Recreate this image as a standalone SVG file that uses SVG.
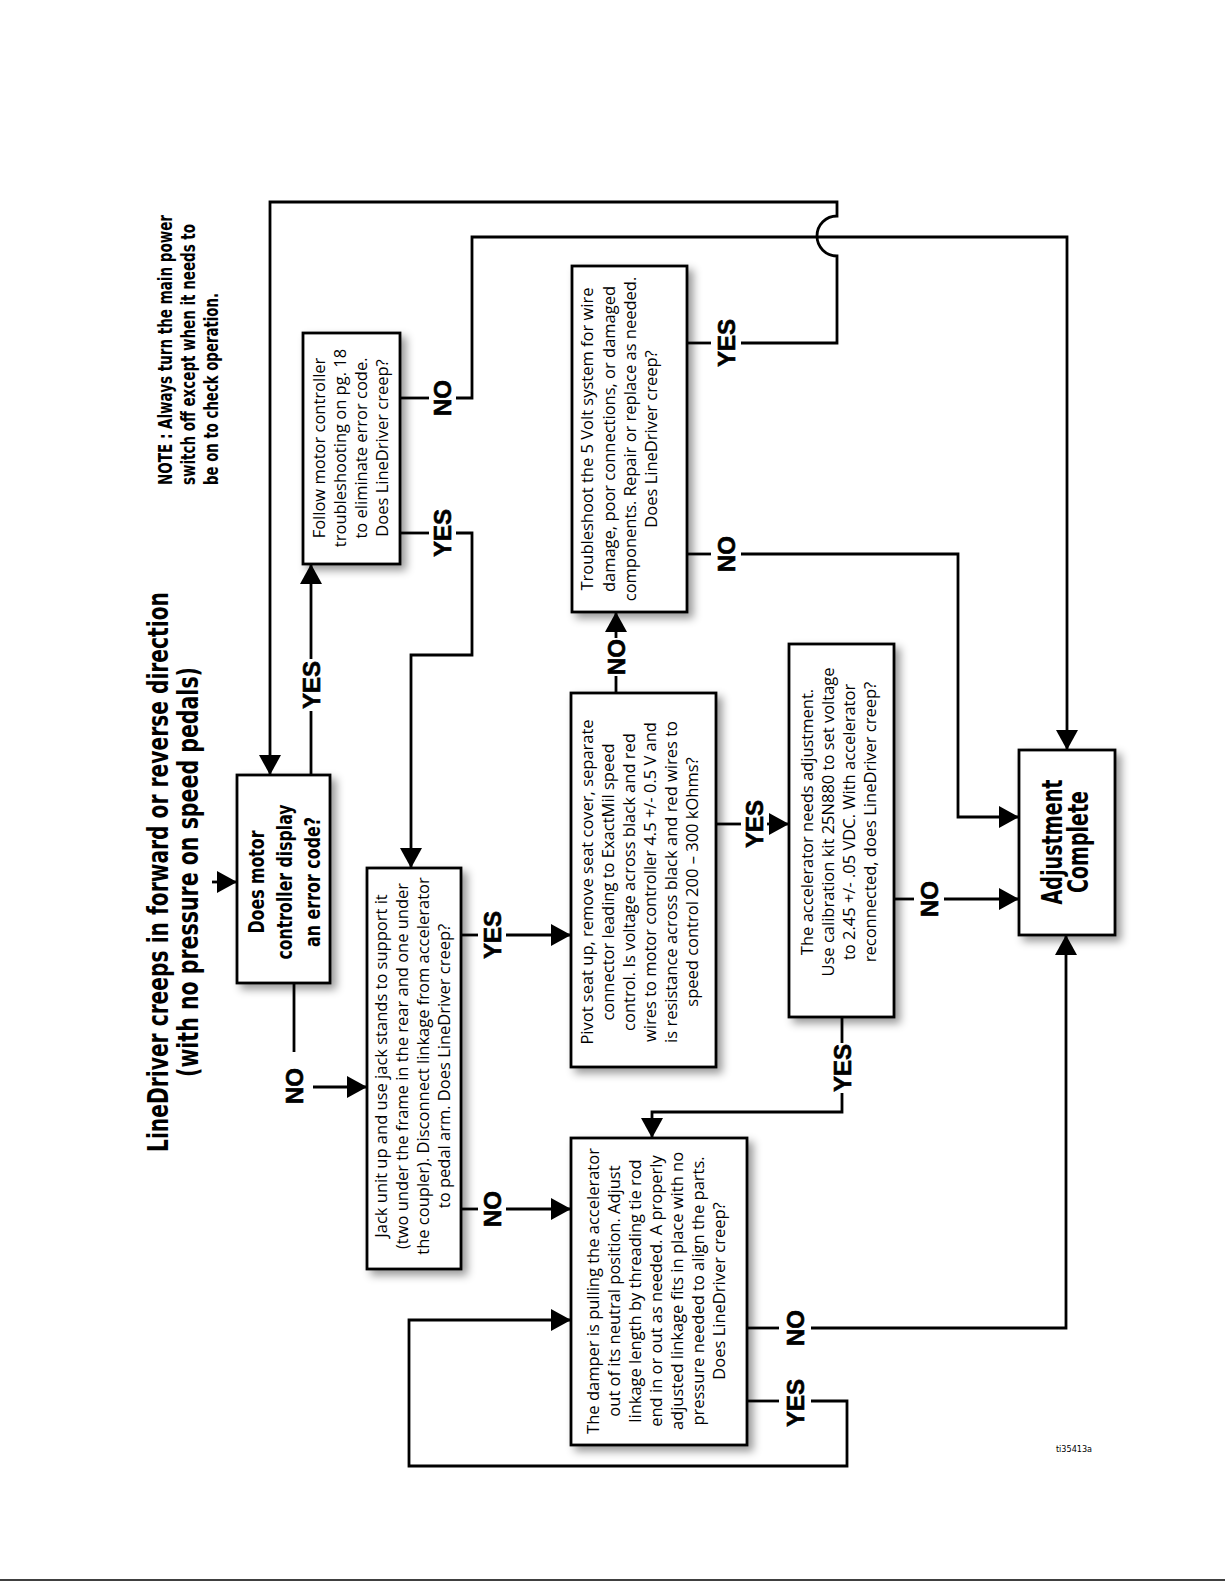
<svg xmlns="http://www.w3.org/2000/svg" width="1225" height="1585" viewBox="0 0 1225 1585">
<style>
.box{fill:#fff;stroke:#000;stroke-width:2.8;filter:url(#sh)}
.ln{fill:none;stroke:#000;stroke-width:2.8}
.ar{marker-end:url(#ah)}
.t{font-family:"Open Sans","Noto Sans",sans-serif;font-size:16.5px;fill:#000;text-anchor:middle}
.c{font-family:"Liberation Sans Narrow","DejaVu Sans Condensed","Liberation Sans",sans-serif;font-weight:bold;fill:#000}
.m{text-anchor:middle}
.yn{font-family:"Liberation Sans",Arial,sans-serif;font-weight:bold;font-size:24px;text-anchor:middle;fill:#000;stroke:#000;stroke-width:0.6}
.id{font-family:"Liberation Sans Narrow","DejaVu Sans Condensed","Liberation Sans",sans-serif;font-weight:normal;font-size:9px;fill:#000;text-anchor:middle}
</style>
<defs>
<filter id="sh" x="-15%" y="-15%" width="140%" height="140%">
<feDropShadow dx="5" dy="5" stdDeviation="4" flood-color="#000" flood-opacity="0.4"/>
</filter>
<marker id="ah" viewBox="0 0 20 22" refX="20" refY="11" markerWidth="20" markerHeight="22" markerUnits="userSpaceOnUse" orient="auto">
<path d="M0,0 L20,11 L0,22 z" fill="#000"/>
</marker>
</defs>
<rect width="1225" height="1585" fill="#fff"/>

<g id="title">
<text class="c m" transform="rotate(-90)" x="-872" y="168" font-size="28" textLength="560" lengthAdjust="spacingAndGlyphs">LineDriver creeps in forward or reverse direction</text>
<text class="c m" transform="rotate(-90)" x="-872" y="198" font-size="28" textLength="410" lengthAdjust="spacingAndGlyphs">(with no pressure on speed pedals)</text>
</g>
<g id="note">
<text class="c" transform="rotate(-90)" x="-485" y="172" font-size="19" textLength="270" lengthAdjust="spacingAndGlyphs">NOTE : Always turn the main power</text>
<text class="c" transform="rotate(-90)" x="-485" y="195" font-size="19" textLength="261" lengthAdjust="spacingAndGlyphs">switch off except when it needs to</text>
<text class="c" transform="rotate(-90)" x="-485" y="218" font-size="19" textLength="192" lengthAdjust="spacingAndGlyphs">be on to check operation.</text>
</g>

<g id="connectors">
<path class="ln ar" d="M212,882 H237"/>
<path class="ln" d="M311,775 V711"/><path class="ln ar" d="M311,659 V564"/>
<path class="ln" d="M294,983 V1052"/><path class="ln ar" d="M313,1087 H367"/>
<path class="ln" d="M400,398 H429"/><path class="ln ar" d="M456,398 H472 V237 H1067 V750"/>
<path class="ln" d="M400,533 H429"/><path class="ln ar" d="M456,533 H472 V655 H411 V868"/>
<path class="ln" d="M461,935 H478"/><path class="ln ar" d="M506,935 H571"/>
<path class="ln" d="M461,1209 H478"/><path class="ln ar" d="M506,1209 H571"/>
<path class="ln" d="M616,693 V676"/><path class="ln ar" d="M616,638 V612"/>
<path class="ln" d="M716,824 H741"/><path class="ln ar" d="M767,824 H789"/>
<path class="ln" d="M687,343 H711"/><path class="ln ar" d="M741,343 H837 V256 A20,20 0 0 1 837,216 V202 H270 V775"/>
<path class="ln" d="M687,554 H711"/><path class="ln ar" d="M741,554 H958 V817 H1019"/>
<path class="ln" d="M894,899 H914"/><path class="ln ar" d="M944,899 H1019"/>
<path class="ln" d="M842,1017 V1043"/><path class="ln ar" d="M842,1093 V1112 H652 V1138"/>
<path class="ln" d="M747,1328 H779"/><path class="ln ar" d="M811,1328 H1066 V935"/>
<path class="ln" d="M747,1401 H779"/><path class="ln ar" d="M811,1401 H847 V1466 H409 V1320 H571"/>
<g id="labels">
<text class="yn" transform="rotate(-90)" x="-685" y="319.6">YES</text>
<text class="yn" transform="rotate(-90)" x="-1086" y="302.6">NO</text>
<text class="yn" transform="rotate(-90)" x="-398" y="450.6">NO</text>
<text class="yn" transform="rotate(-90)" x="-533" y="450.6">YES</text>
<text class="yn" transform="rotate(-90)" x="-935" y="500.6">YES</text>
<text class="yn" transform="rotate(-90)" x="-1209" y="500.6">NO</text>
<text class="yn" transform="rotate(-90)" x="-657" y="624.6">NO</text>
<text class="yn" transform="rotate(-90)" x="-824" y="762.6">YES</text>
<text class="yn" transform="rotate(-90)" x="-343" y="734.6">YES</text>
<text class="yn" transform="rotate(-90)" x="-554" y="734.6">NO</text>
<text class="yn" transform="rotate(-90)" x="-899" y="937.6">NO</text>
<text class="yn" transform="rotate(-90)" x="-1068" y="850.6">YES</text>
<text class="yn" transform="rotate(-90)" x="-1328" y="803.6">NO</text>
<text class="yn" transform="rotate(-90)" x="-1403" y="803.6">YES</text>
</g>
</g>

<g id="n1">
<rect class="box" x="237" y="775" width="93" height="208"/>
<text class="c m" transform="rotate(-90)" x="-882" y="264" font-size="22" textLength="103" lengthAdjust="spacingAndGlyphs">Does motor</text>
<text class="c m" transform="rotate(-90)" x="-882" y="292" font-size="22" textLength="155" lengthAdjust="spacingAndGlyphs">controller display</text>
<text class="c m" transform="rotate(-90)" x="-882" y="320" font-size="22" textLength="130" lengthAdjust="spacingAndGlyphs">an error code?</text>
</g>
<g id="n2">
<rect class="box" x="303" y="333" width="97" height="231"/>
<text class="t" transform="rotate(-90)"><tspan x="-448" y="325">Follow motor controller</tspan><tspan x="-448" y="346">troubleshooting on pg. 18</tspan><tspan x="-448" y="367">to eliminate error code.</tspan><tspan x="-448" y="388">Does LineDriver creep?</tspan></text>
</g>
<g id="n3">
<rect class="box" x="367" y="868" width="94" height="401"/>
<text class="t" transform="rotate(-90)"><tspan x="-1066" y="387">Jack unit up and use jack stands to support it</tspan><tspan x="-1066" y="408">(two under the frame in the rear and one under</tspan><tspan x="-1066" y="429">the coupler). Disconnect linkage from accelerator</tspan><tspan x="-1066" y="450">to pedal arm. Does LineDriver creep?</tspan></text>
</g>
<g id="n4">
<rect class="box" x="571" y="693" width="145" height="374"/>
<text class="t" transform="rotate(-90)"><tspan x="-882" y="593">Pivot seat up, remove seat cover, separate</tspan><tspan x="-882" y="614">connector leading to ExactMil speed</tspan><tspan x="-882" y="635">control. Is voltage across black and red</tspan><tspan x="-882" y="656">wires to motor controller 4.5 +/- 0.5 V and</tspan><tspan x="-882" y="677">is resistance across black and red wires to</tspan><tspan x="-882" y="698">speed control 200 – 300 kOhms?</tspan></text>
</g>
<g id="n5">
<rect class="box" x="572" y="266" width="115" height="346"/>
<text class="t" transform="rotate(-90)"><tspan x="-439" y="593">Troubleshoot the 5 Volt system for wire</tspan><tspan x="-439" y="615">damage, poor connections, or damaged</tspan><tspan x="-439" y="636">components. Repair or replace as needed.</tspan><tspan x="-439" y="657">Does LineDriver creep?</tspan></text>
</g>
<g id="n6">
<rect class="box" x="789" y="644" width="105" height="373"/>
<text class="t" transform="rotate(-90)"><tspan x="-822" y="813">The accelerator needs adjustment.</tspan><tspan x="-822" y="834">Use calibration kit 25N880 to set voltage</tspan><tspan x="-822" y="855">to 2.45 +/- .05 VDC. With accelerator</tspan><tspan x="-822" y="876">reconnected, does LineDriver creep?</tspan></text>
</g>
<g id="n7">
<rect class="box" x="571" y="1138" width="176" height="307"/>
<text class="t" transform="rotate(-90)"><tspan x="-1291" y="599">The damper is pulling the accelerator</tspan><tspan x="-1291" y="620">out of its neutral position. Adjust</tspan><tspan x="-1291" y="641">linkage length by threading tie rod</tspan><tspan x="-1291" y="662">end in or out as needed. A properly</tspan><tspan x="-1291" y="683">adjusted linkage fits in place with no</tspan><tspan x="-1291" y="704">pressure needed to align the parts.</tspan><tspan x="-1291" y="725">Does LineDriver creep?</tspan></text>
</g>
<g id="n8">
<rect class="box" x="1019" y="750" width="96" height="185"/>
<text class="c m" transform="rotate(-90)" x="-842" y="1062" font-size="28" textLength="125" lengthAdjust="spacingAndGlyphs">Adjustment</text>
<text class="c m" transform="rotate(-90)" x="-842" y="1088" font-size="28" textLength="102" lengthAdjust="spacingAndGlyphs">Complete</text>
</g>

<text class="id" x="1074" y="1452">ti35413a</text>
<line x1="0" y1="1580" x2="1225" y2="1580" stroke="#000" stroke-width="1.5"/>
</svg>
